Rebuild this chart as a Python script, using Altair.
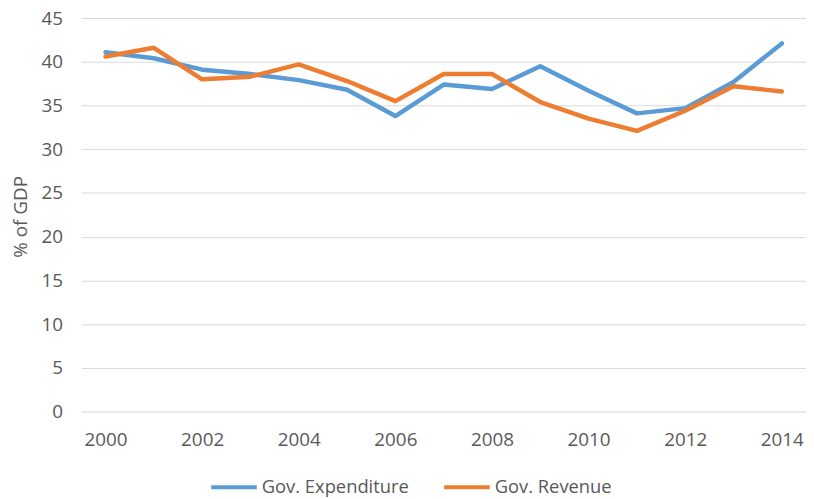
import altair as alt
import pandas as pd

years = list(range(2000, 2015))
expenditure = [41.1, 40.4, 39.1, 38.6, 37.9, 36.8, 33.8, 37.4, 36.9, 39.5, 36.7, 34.1, 34.7, 37.7, 42.1]
revenue = [40.6, 41.6, 38.0, 38.3, 39.7, 37.8, 35.5, 38.6, 38.6, 35.4, 33.5, 32.1, 34.4, 37.2, 36.6]
series_names = ["Gov. Expenditure", "Gov. Revenue"]
series_colors = ["#5B9BD5", "#ED7D31"]
x_ticks = [2000, 2002, 2004, 2006, 2008, 2010, 2012, 2014]
y_ticks = [0, 5, 10, 15, 20, 25, 30, 35, 40, 45]

rows = []
for y, v in zip(years, expenditure):
    rows.append({"Year": y, "Value": v, "Series": series_names[0]})
for y, v in zip(years, revenue):
    rows.append({"Year": y, "Value": v, "Series": series_names[1]})
df = pd.DataFrame(rows)

FONT = "Open Sans"
GREY = "#595959"

chart = (
    alt.Chart(df)
    .mark_line(strokeWidth=4.5, strokeCap="round", strokeJoin="round")
    .encode(
        x=alt.X(
            "Year:Q",
            scale=alt.Scale(domain=[1999.5, 2014.5], nice=False, zero=False),
            axis=alt.Axis(
                values=x_ticks, format="d", grid=False, ticks=False, domain=False,
                labelPadding=19, labelFontSize=19, labelColor=GREY, labelFont=FONT,
                title=None,
            ),
        ),
        y=alt.Y(
            "Value:Q",
            scale=alt.Scale(domain=[0, 45], nice=False),
            axis=alt.Axis(
                values=y_ticks, ticks=False, domain=False, gridColor="#D9D9D9",
                gridWidth=1, labelPadding=19, labelFontSize=19, labelColor=GREY,
                labelFont=FONT, title="% of GDP", titleFont=FONT, titleFontSize=19,
                titleFontWeight="normal", titleColor=GREY, titleX=-55, titleY=200,
                titleBaseline="alphabetic", titleAngle=270,
            ),
        ),
        color=alt.Color(
            "Series:N",
            scale=alt.Scale(domain=series_names, range=series_colors),
            legend=alt.Legend(
                title=None, orient="none", legendX=129, legendY=448,
                direction="horizontal", symbolType="stroke", symbolSize=2116,
                symbolStrokeWidth=4, labelFontSize=18.5, labelFont=FONT,
                labelColor=GREY, labelOffset=3, columnPadding=27, padding=0,
            ),
        ),
    )
    .properties(
        width=731, height=397,
        autosize=alt.AutoSizeParams(type="none"),
        padding={"left": 74, "top": 8, "right": 0, "bottom": 86},
    )
    .configure_view(stroke=None)
)

chart.save("out.html", embed_options={"renderer": "svg", "actions": False})
